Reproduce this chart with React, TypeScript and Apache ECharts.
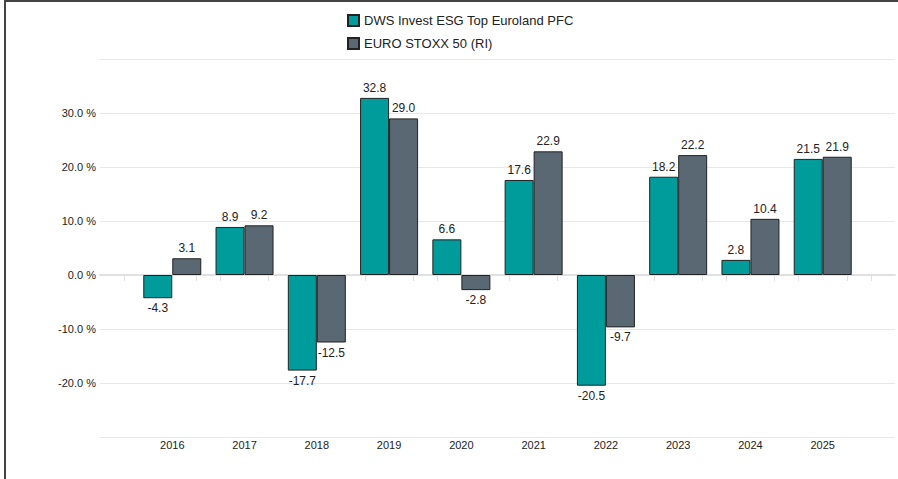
import React, { useEffect, useRef } from "react";
import * as echarts from "echarts";

const years = [2016, 2017, 2018, 2019, 2020, 2021, 2022, 2023, 2024, 2025];
const fundName = "DWS Invest ESG Top Euroland PFC";
const benchName = "EURO STOXX 50 (RI)";
const fundValues = [-4.3, 8.9, -17.7, 32.8, 6.6, 17.6, -20.5, 18.2, 2.8, 21.5];
const benchValues = [3.1, 9.2, -12.5, 29.0, -2.8, 22.9, -9.7, 22.2, 10.4, 21.9];

const FONT = "Liberation Sans, Arial, sans-serif";

function toData(vals: number[]) {
  return vals.map((v, i) => ({
    value: [years[i], v],
    label: { position: v < 0 ? "bottom" : "top" },
  }));
}

export default function App() {
  const ref = useRef<HTMLDivElement>(null);
  useEffect(() => {
    document.body.style.margin = "0";
    const chart = echarts.init(ref.current!, null, { renderer: "svg" });
    const labelCommon = {
      show: true,
      color: "#222",
      fontSize: 12,
      fontFamily: FONT,
      distance: 4,
      formatter: (p: any) => p.value[1].toFixed(1),
    };
    chart.setOption({
      animation: false,
      legend: {
        orient: "vertical",
        left: 342,
        top: 9,
        itemWidth: 11,
        itemHeight: 11,
        itemGap: 10,
        icon: "rect",
        textStyle: { fontSize: 13, fontFamily: FONT, color: "#222" },
        data: [fundName, benchName],
      },
      grid: { left: 100, right: 3, top: 59, bottom: 42 },
      xAxis: {
        type: "value",
        min: 2015,
        max: 2026,
        interval: 1,
        axisLine: { show: true, lineStyle: { color: "#e0e0e0", width: 2 } },
        axisTick: { show: false },
        minorTick: { show: true, splitNumber: 3, length: 6, lineStyle: { color: "#e0e0e0", width: 1 } },
        splitLine: { show: false },
        axisLabel: {
          color: "#222",
          fontSize: 11,
          fontFamily: FONT,
          margin: 2,
          formatter: (v: number) => (v < 2016 || v > 2025 ? "" : String(v)),
        },
      },
      yAxis: {
        type: "value",
        min: -30,
        max: 40,
        interval: 10,
        axisLine: { show: false },
        axisTick: { show: false },
        splitLine: { lineStyle: { color: "#e8e8e8", width: 1 } },
        axisLabel: {
          color: "#222",
          fontSize: 11,
          fontFamily: FONT,
          margin: 4,
          formatter: (v: number) => (v <= -30 || v >= 40 ? "" : v.toFixed(1) + " %"),
        },
      },
      graphic: [
        { type: "line", shape: { x1: 5, y1: 0, x2: 5, y2: 479 }, style: { stroke: "#444", lineWidth: 2 } },
        { type: "line", shape: { x1: 4, y1: 1, x2: 898, y2: 1 }, style: { stroke: "#444", lineWidth: 2 } },
      ],
      series: [
        {
          name: fundName,
          type: "bar",
          barWidth: 29,
          barGap: "0%",
          itemStyle: { color: "#009B9B", borderColor: "#222", borderWidth: 1 },
          label: labelCommon,
          data: toData(fundValues),
        },
        {
          name: benchName,
          type: "bar",
          barWidth: 29,
          barGap: "0%",
          itemStyle: { color: "#5A6874", borderColor: "#222", borderWidth: 1 },
          label: labelCommon,
          data: toData(benchValues),
        },
      ],
    });
    return () => chart.dispose();
  }, []);
  return (
    <div
      ref={ref}
      style={{ position: "fixed", left: 0, top: 0, width: 898, height: 479, background: "#fff" }}
    />
  );
}
